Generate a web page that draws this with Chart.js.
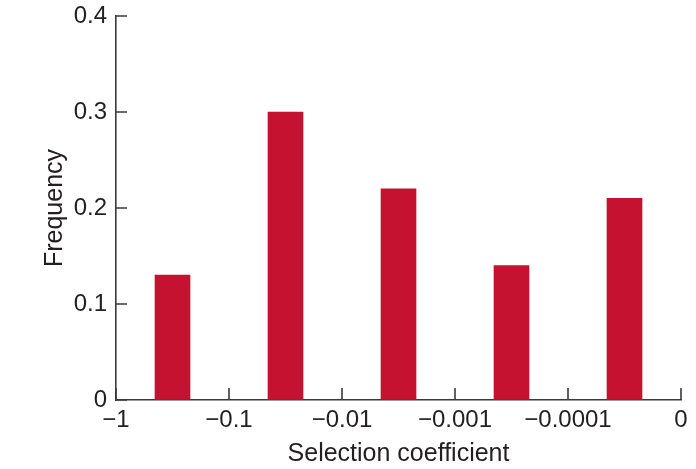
<!DOCTYPE html>
<html>
<head>
<meta charset="utf-8">
<script src="https://cdn.jsdelivr.net/npm/chart.js@4"></script>
<style>
html,body{margin:0;padding:0;background:#fff;}
#wrap{width:696px;height:469px;position:relative;}
</style>
</head>
<body>
<div id="wrap"><canvas id="c" width="696" height="469"></canvas></div>
<script>
const binCenters = [0.5, 1.5, 2.5, 3.5, 4.5];
const frequencies = [0.13, 0.30, 0.22, 0.14, 0.21];
const xTickLabels = ['\u22121', '\u22120.1', '\u22120.01', '\u22120.001', '\u22120.0001', '0'];
const yTickValues = [0, 0.1, 0.2, 0.3, 0.4];

const barColor = '#C41230';
const inkColor = '#231F20';
const axisColor = '#3a3a3a';

const inwardTicks = {
  id: 'inwardTicks',
  afterDraw(chart) {
    const ctx = chart.ctx;
    const xs = chart.scales.x, ys = chart.scales.y;
    ctx.save();
    ctx.strokeStyle = axisColor;
    ctx.lineWidth = 1.6;
    ctx.beginPath();
    ys.ticks.forEach(t => {
      const y = ys.getPixelForValue(t.value);
      ctx.moveTo(xs.left, y);
      ctx.lineTo(xs.left + 11, y);
    });
    xs.ticks.forEach(t => {
      const x = xs.getPixelForValue(t.value);
      ctx.moveTo(x, ys.bottom);
      ctx.lineTo(x, ys.bottom - 12);
    });
    ctx.stroke();
    ctx.restore();
  }
};

new Chart(document.getElementById('c'), {
  type: 'bar',
  data: {
    datasets: [{
      data: binCenters.map((x, i) => ({x: x, y: frequencies[i]})),
      backgroundColor: barColor,
      borderWidth: 0,
      barThickness: 35
    }]
  },
  options: {
    responsive: false,
    animation: false,
    events: [],
    layout: {padding: {left: 0, right: 15, top: 16, bottom: 0}},
    plugins: {legend: {display: false}, tooltip: {enabled: false}},
    scales: {
      x: {
        type: 'linear',
        min: 0, max: 5,
        offset: false,
        afterBuildTicks(scale) { scale.ticks = xTickLabels.map((l, i) => ({value: i})); },
        afterFit(scale) { scale.height = 69; scale.paddingLeft = 0; scale.paddingRight = 0; },
        grid: {display: true, drawOnChartArea: false, drawTicks: false},
        border: {display: true, color: axisColor, width: 1.6},
        ticks: {
          color: inkColor,
          font: {family: 'Liberation Sans', size: 24},
          padding: 6,
          maxRotation: 0,
          autoSkip: false,
          callback: (v) => xTickLabels[v]
        },
        title: {
          display: true,
          text: 'Selection coefficient',
          color: inkColor,
          font: {family: 'Liberation Sans', size: 25},
          padding: {top: 4, bottom: 0}
        }
      },
      y: {
        type: 'linear',
        min: 0, max: 0.4,
        afterBuildTicks(scale) { scale.ticks = yTickValues.map(v => ({value: v})); },
        afterFit(scale) { scale.width = 116; scale.paddingTop = 0; scale.paddingBottom = 0; },
        grid: {display: true, drawOnChartArea: false, drawTicks: false},
        border: {display: true, color: axisColor, width: 1.6},
        ticks: {
          color: inkColor,
          font: {family: 'Liberation Sans', size: 24},
          padding: 9,
          callback: (v) => (v === 0 ? '0' : v.toFixed(1))
        },
        title: {
          display: true,
          text: 'Frequency',
          color: inkColor,
          font: {family: 'Liberation Sans', size: 25},
          padding: {top: 40, bottom: 0}
        }
      }
    }
  },
  plugins: [inwardTicks]
});
</script>
</body>
</html>
